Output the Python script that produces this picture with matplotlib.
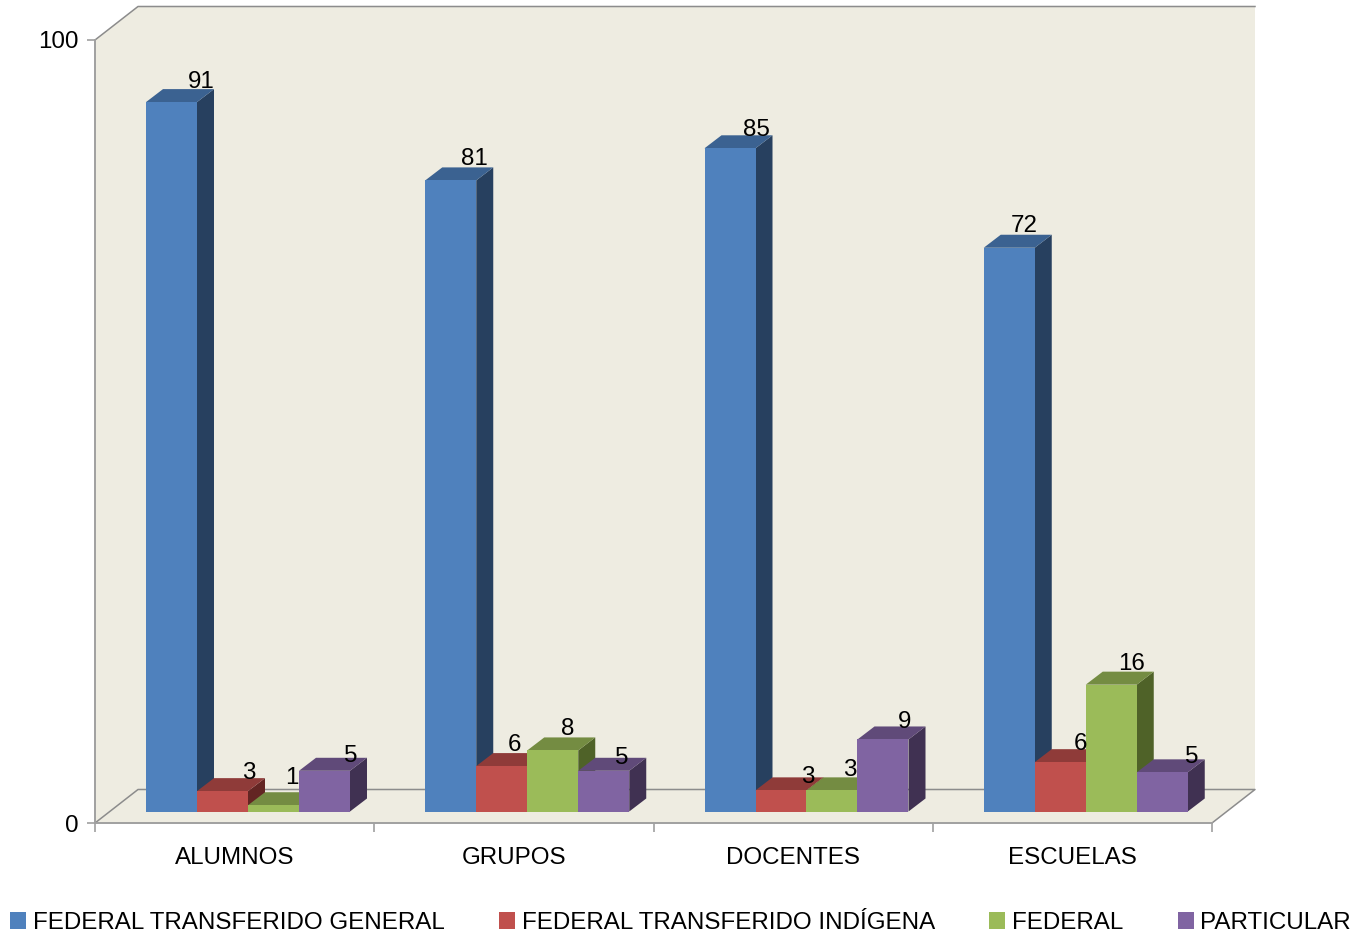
#!/usr/bin/env python
"""3D-look grouped bar chart, drawn as flat polygons on a normal 2D axes."""

import matplotlib

matplotlib.use("Agg")
import matplotlib.pyplot as plt
from matplotlib.patches import Patch

plt.rcParams["font.family"] = ["Liberation Sans", "DejaVu Sans"]

CATEGORIES = ["ALUMNOS", "GRUPOS", "DOCENTES", "ESCUELAS"]
SERIES = ["FEDERAL TRANSFERIDO GENERAL", "FEDERAL TRANSFERIDO INDÍGENA", "FEDERAL", "PARTICULAR"]
GENERAL = [90.6, 80.6, 84.7, 72.0]
INDIGENA = [2.6, 5.8, 2.7, 6.3]
FEDERAL = [0.8, 7.8, 2.7, 16.2]
PARTICULAR = [5.2, 5.2, 9.2, 5.0]

# (front, top, side) shades per series
COLORS = [
    ("#4F81BD", "#3B6291", "#27405F"),
    ("#C0504D", "#8F3B39", "#632523"),
    ("#9BBB59", "#748C42", "#4F6228"),
    ("#8064A2", "#604A79", "#403152"),
]
# the data labels were placed by hand in the original: nudge in pixels, per category then series
LABEL_NUDGE = [
    [(4, -20), (1, -18), (-7, -27), (1, -15)],
    [(-2, -21), (-13, -21), (-11, -21), (-7, -13)],
    [(1, -18), (1, -13), (-8, -20), (-4, -17)],
    [(-10, -22), (-5, -18), (-5, -21), (4, -15)],
]

FONT = 17.35
W, H = 1363, 938
AX_L, AX_R, AX_T, AX_B = 95, 1212, 40, 823
XU = 4 / (AX_R - AX_L)  # data units per pixel
YU = 100 / (AX_B - AX_T)
GRID = "#8C8C8C"

fig = plt.figure(figsize=(W / 100, H / 100), dpi=100)
ax = fig.add_axes([AX_L / W, 1 - AX_B / H, (AX_R - AX_L) / W, (AX_B - AX_T) / H])
ax.patch.set_visible(False)

# wall + floor
wall_dx, wall_dy = 43 * XU, 33.5 * YU
ax.fill(
    [0, wall_dx, 4 + wall_dx, 4 + wall_dx, 4, 0],
    [100, 100 + wall_dy, 100 + wall_dy, wall_dy, 0, 0],
    color="#EEECE1", lw=0, clip_on=False, zorder=0,
)
for xs, ys in [
    ([0, wall_dx, 4 + wall_dx], [100, 100 + wall_dy, 100 + wall_dy]),
    ([0, wall_dx, 4 + wall_dx, 4], [0, wall_dy, wall_dy, 0]),
]:
    ax.plot(xs, ys, color=GRID, lw=1.1, clip_on=False, zorder=1)

# bars, left to right so each one covers the hidden part of its neighbour
bar_w = 51 / 279.25
first = 51 / 279.25
base = 11.5 * YU
dx, dy = 17 * XU, 13 * YU
values = [GENERAL, INDIGENA, FEDERAL, PARTICULAR]
z = 2
for c in range(len(CATEGORIES)):
    for s, vals in enumerate(values):
        x0 = c + first + s * bar_w
        x1 = x0 + bar_w
        y1 = base + vals[c]
        front, top, side = COLORS[s]
        ax.fill([x1, x1 + dx, x1 + dx, x1], [base, base + dy, y1 + dy, y1], color=side, lw=0, clip_on=False, zorder=z)
        ax.fill([x0, x0 + dx, x1 + dx, x1], [y1, y1 + dy, y1 + dy, y1], color=top, lw=0, clip_on=False, zorder=z)
        ax.fill([x0, x1, x1, x0], [base, base, y1, y1], color=front, lw=0, clip_on=False, zorder=z)
        z += 0.01

for c in range(len(CATEGORIES)):
    for s, vals in enumerate(values):
        x1 = c + first + (s + 1) * bar_w
        nx, ny = LABEL_NUDGE[c][s]
        ax.annotate(
            f"{vals[c]:.0f}", (x1, base + vals[c]), xytext=(nx, -ny),
            textcoords="offset pixels", ha="center", va="center",
            fontsize=FONT, color="#000000", zorder=10,
        )

ax.set_xlim(0, 4)
ax.set_ylim(0, 100)
for name in ("top", "right"):
    ax.spines[name].set_visible(False)
for name in ("left", "bottom"):
    ax.spines[name].set_color("#A0A0A0")
    ax.spines[name].set_linewidth(1.4)
    ax.spines[name].set_zorder(1.5)

ax.set_xticks(range(5), [""] * 5)
ax.set_xticks([i + 0.5 for i in range(4)], CATEGORIES, minor=True)
ax.set_yticks([0, 100])
ax.tick_params(axis="x", which="major", length=6.5, width=1.2, color="#A0A0A0")
ax.tick_params(axis="x", which="minor", length=0, pad=17.3, labelsize=FONT)
ax.tick_params(axis="y", length=5.8, width=1.2, color="#A0A0A0", pad=6, labelsize=FONT)

handles = [Patch(facecolor=c[0], edgecolor="none") for c in COLORS]
fs_px = FONT * 100 / 72
fig.legend(
    handles, SERIES, ncol=4, fontsize=FONT, frameon=False,
    loc="center left", bbox_to_anchor=(10 / W, 1 - 923 / H), borderpad=0, borderaxespad=0,
    handlelength=16 / fs_px, handleheight=16 / fs_px, handletextpad=6.8 / fs_px, columnspacing=54.3 / fs_px,
)

fig.savefig("out.png", dpi=100)
